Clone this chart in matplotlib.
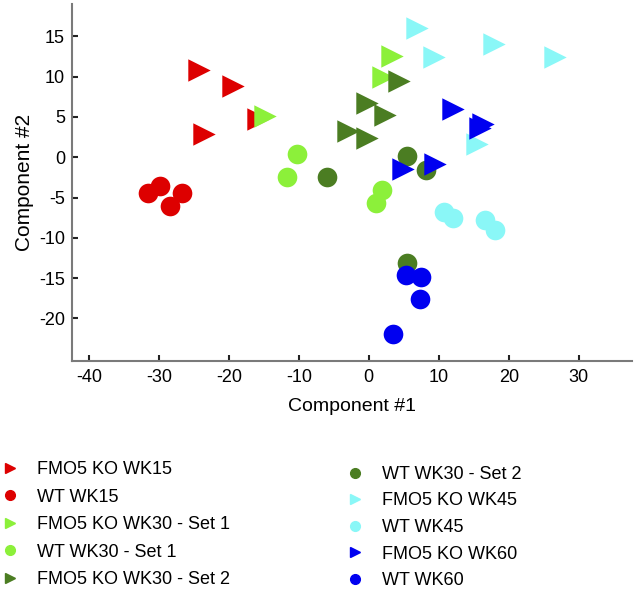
import matplotlib
matplotlib.use("Agg")
import matplotlib.pyplot as plt
from matplotlib.lines import Line2D

plt.rcParams['font.family'] = ['Liberation Sans', 'DejaVu Sans']
plt.rcParams['axes.unicode_minus'] = False

# group labels, in legend order
labels = [
    "FMO5 KO WK15", "WT WK15",
    "FMO5 KO WK30 - Set 1", "WT WK30 - Set 1",
    "FMO5 KO WK30 - Set 2", "WT WK30 - Set 2",
    "FMO5 KO WK45", "WT WK45",
    "FMO5 KO WK60", "WT WK60",
]
colors = [
    "#dd0000", "#dd0000",
    "#8cf03a", "#8cf03a",
    "#4b7d22", "#4b7d22",
    "#8af7f7", "#8af7f7",
    "#0000f0", "#0000f0",
]
markers = [">", "o"] * 5

# component #1 / component #2 scores per group
x_ko15 = [-24.3, -19.4, -23.6, -15.9]
y_ko15 = [10.8, 8.9, 2.9, 4.8]
x_wt15 = [-31.6, -29.9, -28.4, -26.7]
y_wt15 = [-4.5, -3.6, -6.1, -4.5]
x_ko30a = [-14.9, 3.3, 2.0]
y_ko30a = [5.1, 12.6, 9.9]
x_wt30a = [-10.3, -11.7, 1.9, 1.0]
y_wt30a = [0.4, -2.4, -4.1, -5.7]
x_ko30b = [4.3, -0.3, 2.3, -3.0, -0.3]
y_ko30b = [9.5, 6.7, 5.2, 3.2, 2.4]
x_wt30b = [-6.0, 5.4, 8.1, 5.4]
y_wt30b = [-2.4, 0.2, -1.6, -13.1]
x_ko45 = [6.9, 17.9, 26.6, 9.3, 15.4]
y_ko45 = [16.0, 14.1, 12.4, 12.4, 1.7]
x_wt45 = [10.7, 12.0, 16.6, 18.0]
y_wt45 = [-6.8, -7.6, -7.8, -9.0]
x_ko60 = [12.0, 16.3, 15.9, 4.9, 9.4]
y_ko60 = [6.0, 4.1, 3.6, -1.4, -0.8]
x_wt60 = [5.3, 7.4, 7.3, 3.4]
y_wt60 = [-14.6, -14.9, -17.6, -21.9]

xs = [x_ko15, x_wt15, x_ko30a, x_wt30a, x_ko30b, x_wt30b, x_ko45, x_wt45, x_ko60, x_wt60]
ys = [y_ko15, y_wt15, y_ko30a, y_wt30a, y_ko30b, y_wt30b, y_ko45, y_wt45, y_ko60, y_wt60]

fig = plt.figure(figsize=(6.4, 5.91), dpi=100)
ax = fig.add_axes([0.1125, 0.389, 0.875, 0.604])

for x, y, c, m in zip(xs, ys, colors, markers):
    size = 200 if m == "o" else 260
    ax.scatter(x, y, s=size, c=c, marker=m, linewidths=0)

ax.set_xlim(-42.4, 37.6)
ax.set_ylim(-25.3, 19.0)
ax.set_xticks(range(-40, 31, 10))
ax.set_yticks(range(-20, 16, 5))

for side in ["top", "right"]:
    ax.spines[side].set_visible(False)
for side in ["left", "bottom"]:
    ax.spines[side].set_color("#7a7a7a")
    ax.spines[side].set_linewidth(1.5)

ax.tick_params(axis="both", direction="in", length=4, width=1.5,
               color="#222222", labelsize=13)
ax.tick_params(axis="x", pad=6)
ax.tick_params(axis="y", pad=5)

ax.set_xlabel("Component #1", fontsize=14, labelpad=8)
ax.set_ylabel("Component #2", fontsize=15, labelpad=4)

handles = [Line2D([], [], linestyle="none", marker=m, color=c, markersize=7)
           for m, c in zip(markers, colors)]

leg1 = fig.legend(handles[:5], labels[:5], loc="upper left",
                  bbox_to_anchor=(-0.01, 0.232), frameon=False, fontsize=13,
                  handlelength=1.0, handletextpad=1.0, labelspacing=0.58,
                  borderaxespad=0)
leg2 = fig.legend(handles[5:], labels[5:], loc="upper left",
                  bbox_to_anchor=(0.529, 0.224), frameon=False, fontsize=13,
                  handlelength=1.0, handletextpad=1.0, labelspacing=0.53,
                  borderaxespad=0)

fig.savefig("out.png", dpi=100)
